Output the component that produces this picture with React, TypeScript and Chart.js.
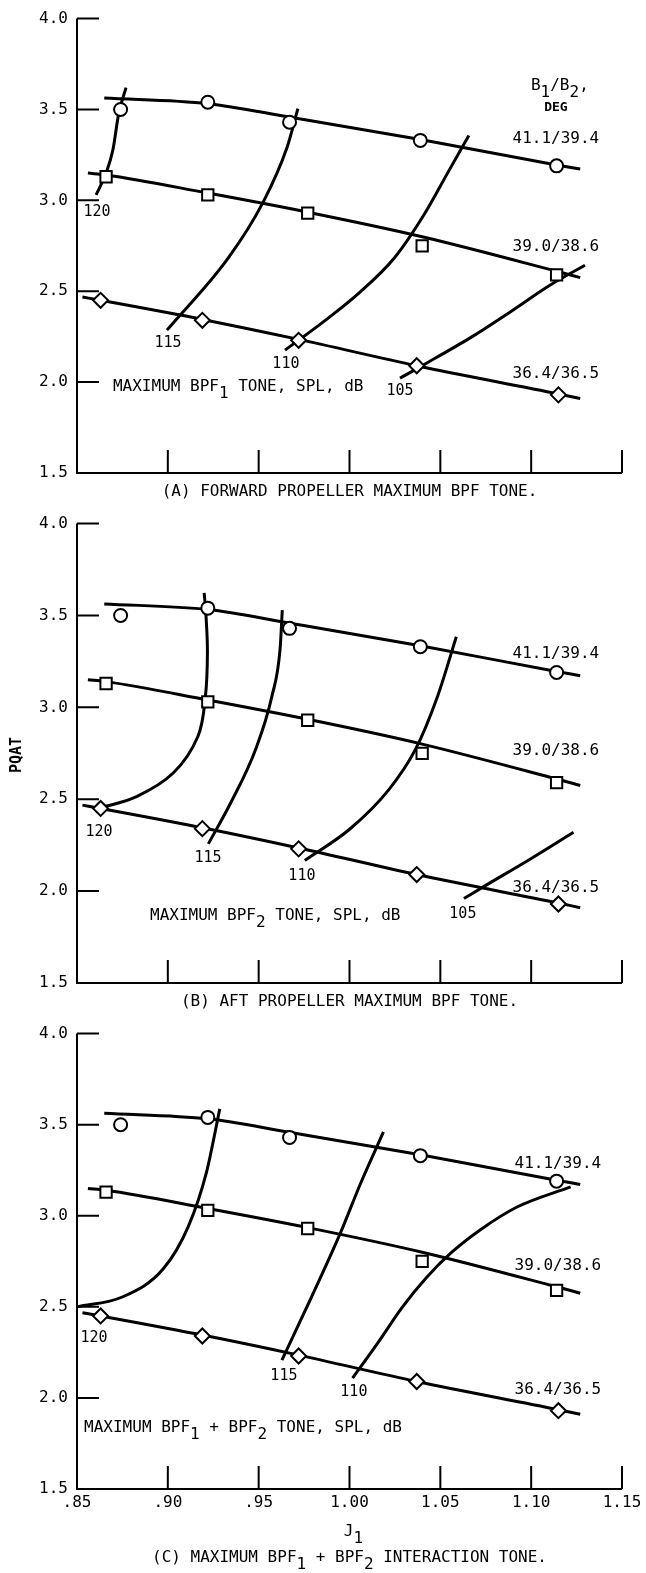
import React, { useEffect, useRef } from "react";
import { Chart, registerables } from "chart.js";
Chart.register(...registerables);

const FONT = '"DejaVu Sans Mono", monospace';

// ---------- axes ----------
const xTickValues = [0.85, 0.9, 0.95, 1.0, 1.05, 1.1, 1.15];
const yTickValues = [1.5, 2.0, 2.5, 3.0, 3.5, 4.0];

// ---------- test points (same in every panel) ----------
const circleJ = [0.874, 0.922, 0.967, 1.039, 1.114];
const circlePQAT = [3.5, 3.54, 3.43, 3.33, 3.19];
const squareJ = [0.866, 0.922, 0.977, 1.04, 1.114];
const squarePQAT = [3.13, 3.03, 2.93, 2.75, 2.59];
const diamondJ = [0.863, 0.919, 0.972, 1.037, 1.115];
const diamondPQAT = [2.45, 2.34, 2.23, 2.09, 1.93];

// ---------- faired lines (B1/B2 settings) ----------
const fair411J = [0.865, 0.922, 0.967, 1.039, 1.114, 1.127];
const fair411P = [3.563, 3.532, 3.458, 3.335, 3.195, 3.172];
const fair390J = [0.856, 0.866, 0.922, 0.977, 1.04, 1.114, 1.127];
const fair390P = [3.15, 3.14, 3.04, 2.935, 2.8, 2.61, 2.575];
const fair364J = [0.853, 0.863, 0.919, 0.972, 1.037, 1.115, 1.127];
const fair364P = [2.468, 2.45, 2.345, 2.235, 2.09, 1.935, 1.91];

// ---------- contours (A) maximum BPF1 tone, dB ----------
const a120J = [0.8605, 0.866, 0.8698, 0.873, 0.877];
const a120P = [3.03, 3.15, 3.28, 3.48, 3.62];
const a115J = [0.8995, 0.9331, 0.9524, 0.9656, 0.9716];
const a115P = [2.286, 2.681, 2.989, 3.291, 3.505];
const a110J = [0.9645, 0.9854, 1.0058, 1.025, 1.0415, 1.0542, 1.0657];
const a110P = [2.176, 2.33, 2.495, 2.687, 2.929, 3.154, 3.357];
const a105J = [1.0278, 1.0404, 1.068, 1.0883, 1.1103, 1.1296];
const a105P = [2.022, 2.093, 2.253, 2.385, 2.533, 2.643];

// ---------- contours (B) maximum BPF2 tone, dB ----------
const b120J = [0.8636, 0.8828, 0.9031, 0.9166, 0.9207, 0.9218, 0.921, 0.92];
const b120P = [2.455, 2.514, 2.644, 2.843, 3.061, 3.3, 3.5, 3.623];
const b115J = [0.9223, 0.9347, 0.9483, 0.9573, 0.9618, 0.963];
const b115P = [2.257, 2.482, 2.771, 3.061, 3.319, 3.529];
const b110J = [0.9754, 1.0002, 1.0218, 1.0363, 1.0485, 1.0588];
const b110P = [2.167, 2.338, 2.554, 2.771, 3.061, 3.384];
const b105J = [1.063, 1.0748, 1.0996, 1.1233];
const b105P = [1.96, 2.03, 2.175, 2.32];

// ---------- contours (C) maximum BPF1 + BPF2 tone, dB ----------
const c120J = [0.85, 0.8749, 0.8975, 0.9113, 0.9213, 0.9286];
const c120P = [2.5, 2.554, 2.709, 2.942, 3.24, 3.587];
const c115J = [0.9628, 0.9791, 0.9949, 1.0062, 1.0187];
const c115P = [2.208, 2.554, 2.903, 3.18, 3.46];
const c110J = [1.0017, 1.0153, 1.0289, 1.0424, 1.056, 1.0719, 1.0922, 1.1217];
const c110P = [2.109, 2.298, 2.496, 2.661, 2.797, 2.922, 3.048, 3.159];

type Part = [string, boolean];
interface Label {
  parts: Part[];
  x: number;
  y: number;
  align: "left" | "center";
  font?: string;
}
interface Contour {
  data: { x: number; y: number }[];
  parametric?: boolean;
}
interface PanelCfg {
  top: number;
  height: number;
  padTop: number;
  xAxisH: number;
  showXTicks: boolean;
  contours: Contour[];
  labels: Label[];
  caption: Part[];
  captionY: number;
  yTitleY?: number;
  xTitleY?: number;
}

const pts = (xs: number[], ys: number[]) => xs.map((x, i) => ({ x, y: ys[i] }));
const t = (s: string): Part[] => [[s, false]];
const NUM_FONT = `15px ${FONT}`;

const bladeLabels = (y1: number, y2: number, y3: number, x: number): Label[] => [
  { parts: t("41.1/39.4"), x, y: y1, align: "center" },
  { parts: t("39.0/38.6"), x, y: y2, align: "center" },
  { parts: t("36.4/36.5"), x, y: y3, align: "center" },
];

const panels: PanelCfg[] = [
  {
    top: 0,
    height: 505,
    padTop: 18,
    xAxisH: 32,
    showXTicks: false,
    contours: [
      { data: pts(a120J, a120P) },
      { data: pts(a115J, a115P) },
      { data: pts(a110J, a110P) },
      { data: pts(a105J, a105P) },
    ],
    labels: [
      { parts: t("120"), x: 0.861, y: 2.934, align: "center", font: NUM_FONT },
      { parts: t("115"), x: 0.9001, y: 2.214, align: "center", font: NUM_FONT },
      { parts: t("110"), x: 0.965, y: 2.099, align: "center", font: NUM_FONT },
      { parts: t("105"), x: 1.0278, y: 1.95, align: "center", font: NUM_FONT },
      ...bladeLabels(3.34, 2.742, 2.044, 1.1136),
      { parts: [["B", false], ["1", true], ["/B", false], ["2", true], [",", false]], x: 1.1158, y: 3.632, align: "center" },
      { parts: t("DEG"), x: 1.1136, y: 3.51, align: "center", font: `bold 13px ${FONT}` },
      { parts: [["MAXIMUM BPF", false], ["1", true], [" TONE, SPL, dB", false]], x: 0.8698, y: 1.973, align: "left" },
    ],
    caption: t("(A) FORWARD PROPELLER MAXIMUM BPF TONE."),
    captionY: 492,
  },
  {
    top: 505,
    height: 510,
    padTop: 16,
    xAxisH: 32,
    showXTicks: false,
    contours: [
      { data: pts(b120J, b120P), parametric: true },
      { data: pts(b115J, b115P) },
      { data: pts(b110J, b110P) },
      { data: pts(b105J, b105P) },
    ],
    labels: [
      { parts: t("120"), x: 0.8621, y: 2.322, align: "center", font: NUM_FONT },
      { parts: t("115"), x: 0.9221, y: 2.182, align: "center", font: NUM_FONT },
      { parts: t("110"), x: 0.9738, y: 2.079, align: "center", font: NUM_FONT },
      { parts: t("105"), x: 1.0624, y: 1.873, align: "center", font: NUM_FONT },
      ...bladeLabels(3.291, 2.766, 2.02, 1.1136),
      { parts: [["MAXIMUM BPF", false], ["2", true], [" TONE, SPL, dB", false]], x: 0.8902, y: 1.868, align: "left" },
    ],
    caption: t("(B) AFT PROPELLER MAXIMUM BPF TONE."),
    captionY: 497,
    yTitleY: 250,
  },
  {
    top: 1015,
    height: 558,
    padTop: 17,
    xAxisH: 84,
    showXTicks: true,
    contours: [{ data: pts(c120J, c120P) }, { data: pts(c115J, c115P) }, { data: pts(c110J, c110P) }],
    labels: [
      { parts: t("120"), x: 0.8594, y: 2.331, align: "center", font: NUM_FONT },
      { parts: t("115"), x: 0.9639, y: 2.118, align: "center", font: NUM_FONT },
      { parts: t("110"), x: 1.0024, y: 2.03, align: "center", font: NUM_FONT },
      ...bladeLabels(3.283, 2.725, 2.047, 1.1147),
      {
        parts: [["MAXIMUM BPF", false], ["1", true], [" + BPF", false], ["2", true], [" TONE, SPL, dB", false]],
        x: 0.8539,
        y: 1.838,
        align: "left",
      },
    ],
    caption: [["(C) MAXIMUM BPF", false], ["1", true], [" + BPF", false], ["2", true], [" INTERACTION TONE.", false]],
    captionY: 543,
    xTitleY: 517,
  },
];

function drawRich(ctx: CanvasRenderingContext2D, parts: Part[], x: number, y: number, align: "left" | "center", font: string) {
  ctx.font = font;
  ctx.textAlign = "left";
  ctx.textBaseline = "middle";
  const widths = parts.map(([s]) => ctx.measureText(s).width);
  const total = widths.reduce((a, b) => a + b, 0);
  let cx = align === "center" ? x - total / 2 : x;
  parts.forEach(([s, sub], i) => {
    ctx.fillText(s, cx, sub ? y + 7 : y);
    cx += widths[i];
  });
}

const fmtJ = (v: number) => {
  const s = v.toFixed(2);
  return s.startsWith("0") ? s.slice(1) : s;
};

function makePlugin(cfg: PanelCfg) {
  return {
    id: "panelDecor",
    afterDraw(chart: any) {
      const { ctx, chartArea } = chart;
      const xs = chart.scales.x;
      const ys = chart.scales.y;
      const left = chartArea.left;
      const bottom = chartArea.bottom;
      ctx.save();
      ctx.strokeStyle = "#000";
      ctx.lineWidth = 2;
      ctx.beginPath();
      ctx.moveTo(left, ys.getPixelForValue(4.0));
      ctx.lineTo(left, bottom);
      ctx.lineTo(xs.getPixelForValue(1.15), bottom);
      yTickValues.forEach((v) => {
        if (v === 1.5) return;
        const py = ys.getPixelForValue(v);
        ctx.moveTo(left, py);
        ctx.lineTo(left + 22, py);
      });
      xTickValues.forEach((v) => {
        if (v === 0.85) return;
        const px = xs.getPixelForValue(v);
        ctx.moveTo(px, bottom);
        ctx.lineTo(px, bottom - 23);
      });
      ctx.stroke();

      ctx.fillStyle = "#000";
      cfg.labels.forEach((l) => {
        drawRich(ctx, l.parts, xs.getPixelForValue(l.x), ys.getPixelForValue(l.y), l.align, l.font || `16px ${FONT}`);
      });
      const cx = (left + xs.getPixelForValue(1.15)) / 2;
      drawRich(ctx, cfg.caption, cx, cfg.captionY, "center", `16px ${FONT}`);
      if (cfg.xTitleY !== undefined) {
        drawRich(ctx, [["J", false], ["1", true]], xs.getPixelForValue(1.0) + 4, cfg.xTitleY, "center", `16px ${FONT}`);
      }
      if (cfg.yTitleY !== undefined) {
        ctx.translate(17, cfg.yTitleY);
        ctx.rotate(-Math.PI / 2);
        ctx.font = `bold 15px ${FONT}`;
        ctx.textAlign = "center";
        ctx.textBaseline = "middle";
        ctx.fillText("PQAT", 0, 0);
      }
      ctx.restore();
    },
  };
}

function Panel({ cfg }: { cfg: PanelCfg }) {
  const ref = useRef<HTMLCanvasElement>(null);
  useEffect(() => {
    const marker = (data: any[], style: string, r: number) => ({
      data,
      showLine: false,
      pointStyle: style,
      pointRadius: r,
      pointBackgroundColor: "#fff",
      pointBorderColor: "#000",
      pointBorderWidth: 2,
    });
    const curve = (data: any[], parametric = false) => ({
      data,
      showLine: true,
      pointRadius: 0,
      borderColor: "#000",
      borderWidth: 3,
      fill: false,
      ...(parametric ? { tension: 0.35 } : { cubicInterpolationMode: "monotone" }),
    });
    const chart = new Chart(ref.current as HTMLCanvasElement, {
      type: "scatter",
      data: {
        datasets: [
          marker(pts(circleJ, circlePQAT), "circle", 6.5),
          marker(pts(squareJ, squarePQAT), "rect", 8),
          marker(pts(diamondJ, diamondPQAT), "rectRot", 7.5),
          curve(pts(fair411J, fair411P)),
          curve(pts(fair390J, fair390P)),
          curve(pts(fair364J, fair364P)),
          ...cfg.contours.map((c) => curve(c.data, !!c.parametric)),
        ] as any,
      },
      options: {
        responsive: false,
        animation: false,
        devicePixelRatio: 1,
        events: [],
        layout: { padding: { top: cfg.padTop, right: 24, bottom: 0, left: 0 } },
        plugins: { legend: { display: false }, tooltip: { enabled: false } },
        scales: {
          x: {
            type: "linear",
            min: 0.85,
            max: 1.15,
            grid: { display: false, drawTicks: false },
            border: { display: false },
            afterBuildTicks: (s: any) => {
              s.ticks = xTickValues.map((v) => ({ value: v }));
            },
            afterFit: (s: any) => {
              s.height = cfg.xAxisH;
            },
            ticks: {
              display: cfg.showXTicks,
              padding: 4,
              color: "#000",
              maxRotation: 0,
              autoSkip: false,
              font: { family: FONT, size: 16 },
              callback: (v: any) => fmtJ(Number(v)),
            },
          },
          y: {
            type: "linear",
            min: 1.5,
            max: 4.0,
            grid: { display: false, drawTicks: false },
            border: { display: false },
            afterBuildTicks: (s: any) => {
              s.ticks = yTickValues.map((v) => ({ value: v }));
            },
            afterFit: (s: any) => {
              s.width = 77;
            },
            ticks: {
              padding: 9,
              color: "#000",
              autoSkip: false,
              font: { family: FONT, size: 16 },
              callback: (v: any) => Number(v).toFixed(1),
            },
          },
        },
      } as any,
      plugins: [makePlugin(cfg)],
    });
    return () => chart.destroy();
  }, [cfg]);
  return (
    <canvas
      ref={ref}
      width={646}
      height={cfg.height}
      style={{ position: "absolute", left: 0, top: cfg.top, display: "block" }}
    />
  );
}

export default function App() {
  return (
    <div style={{ position: "absolute", left: 0, top: 0, width: 646, height: 1573, background: "#fff" }}>
      {panels.map((p, i) => (
        <Panel key={i} cfg={p} />
      ))}
    </div>
  );
}
